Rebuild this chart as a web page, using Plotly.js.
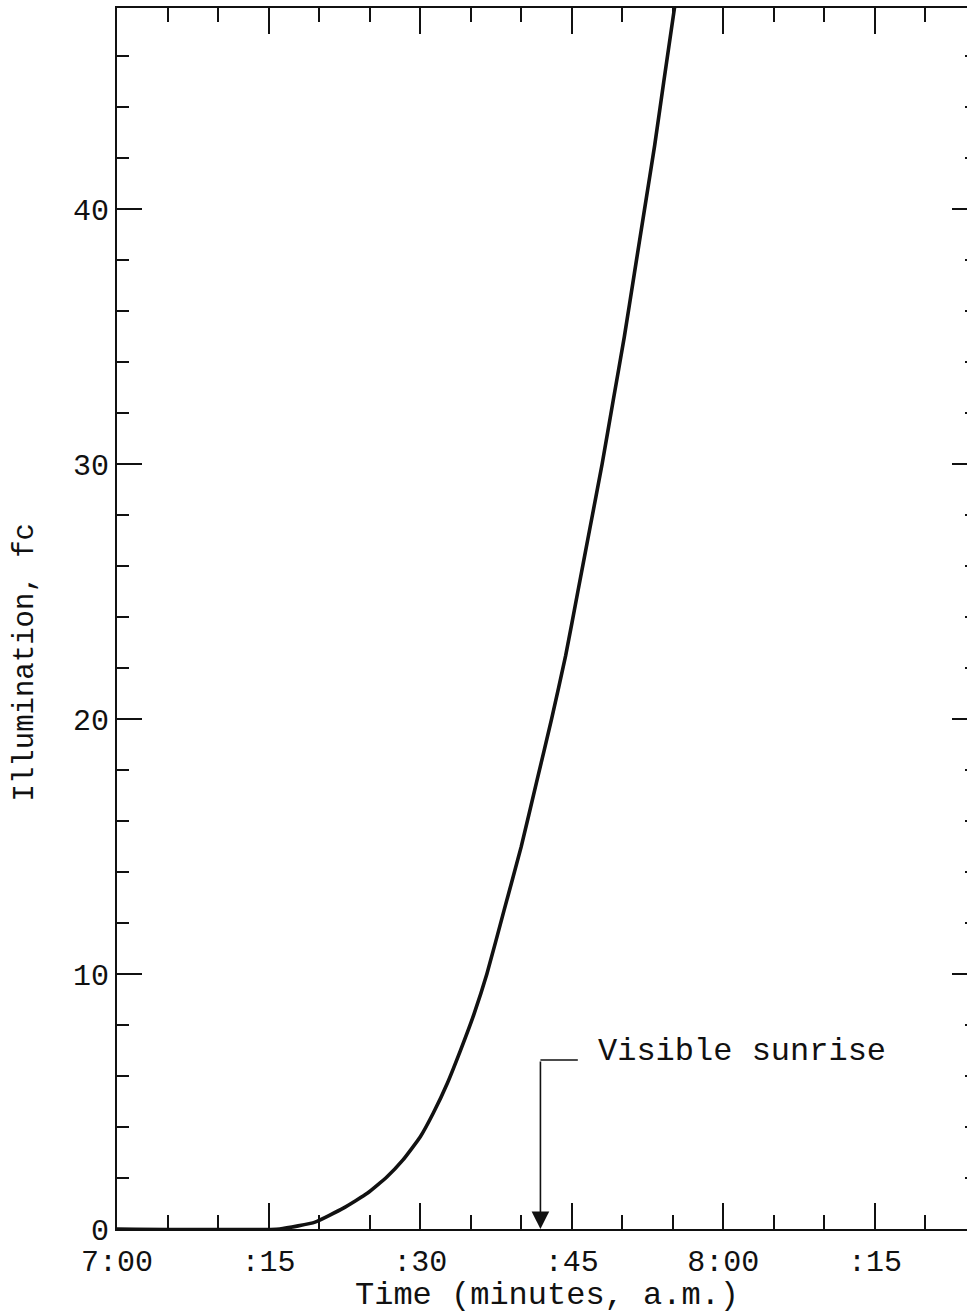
<!DOCTYPE html>
<html>
<head>
<meta charset="utf-8">
<script src="https://cdn.plot.ly/plotly-3.0.1.min.js"></script>
<style>
  html, body { margin: 0; padding: 0; overflow: hidden; background: #fff; }
  #chart { width: 990px; height: 1314px; }
</style>
</head>
<body>
<div id="chart"></div>
<script>
// Minutes after 7:00 a.m.
const minutes = [0, 16.1, 19.6, 22.4, 24.8, 26.7, 28.3, 30.0, 31.3, 32.7, 34.0,
                 35.3, 36.6, 38.3, 40.0, 41.5, 43.0, 44.4, 45.6, 46.8, 48.0,
                 49.1, 50.2, 51.2, 52.2, 53.2, 54.1, 55.2];
// Illumination, foot-candles
const illumination = [0, 0, 0.27, 0.82, 1.41, 2.04, 2.71, 3.61, 4.55, 5.73, 7.02,
                      8.4, 10.0, 12.5, 15.0, 17.5, 20.0, 22.5, 25.0, 27.5, 30.0,
                      32.5, 35.0, 37.5, 40.0, 42.5, 45.0, 48.0];

const xTickMinutes = [0, 15, 30, 45, 60, 75];
const xTickLabels = ['7:00', ':15', ':30', ':45', '8:00', ':15'];
const yTickValues = [0, 10, 20, 30, 40];
const yTickLabels = ['0', '10', '20', '30', '40'];

const sunriseMinute = 41.9;
const sunriseLabelLevel = 6.63;
const sunriseLeaderEnd = 45.6;
const sunriseText = 'Visible sunrise';

const FONT = '"Liberation Mono", "DejaVu Sans Mono", monospace';
const INK = '#111';

const trace = {
  x: minutes,
  y: illumination,
  type: 'scatter',
  mode: 'lines',
  line: { color: INK, width: 3.6, shape: 'spline', smoothing: 0.4 },
  hoverinfo: 'skip',
  showlegend: false
};

const leader = {
  x: [sunriseMinute, sunriseLeaderEnd],
  y: [sunriseLabelLevel, sunriseLabelLevel],
  type: 'scatter',
  mode: 'lines',
  line: { color: INK, width: 1.6 },
  hoverinfo: 'skip',
  showlegend: false
};

const layout = {
  width: 990,
  height: 1314,
  margin: { l: 117, r: 13, t: 8, b: 85 },
  paper_bgcolor: '#fff',
  plot_bgcolor: '#fff',
  font: { family: FONT, color: INK, size: 30 },
  xaxis: {
    range: [0, 85.1],
    tickmode: 'array',
    tickvals: xTickMinutes,
    ticktext: xTickLabels,
    ticks: 'inside',
    ticklen: 26,
    tickwidth: 2,
    tickcolor: INK,
    minor: { tick0: 0, dtick: 5, ticks: 'inside', ticklen: 14, tickwidth: 2, tickcolor: INK, showgrid: false },
    showline: true,
    linewidth: 2,
    linecolor: INK,
    mirror: 'ticks',
    showgrid: false,
    zeroline: false,
    ticklabelstandoff: 4,
    tickfont: { family: FONT, size: 30, color: INK },
    title: { text: 'Time (minutes, a.m.)', font: { family: FONT, size: 32, color: INK }, standoff: 0 },
    automargin: false,
    fixedrange: true
  },
  yaxis: {
    range: [0, 47.9],
    tickmode: 'array',
    tickvals: yTickValues,
    ticktext: yTickLabels,
    ticks: 'inside',
    ticklen: 25,
    tickwidth: 2,
    tickcolor: INK,
    minor: { tick0: 0, dtick: 2, ticks: 'inside', ticklen: 12, tickwidth: 2, tickcolor: INK, showgrid: false },
    showline: true,
    linewidth: 2,
    linecolor: INK,
    mirror: 'ticks',
    showgrid: false,
    zeroline: false,
    ticklabelstandoff: 0,
    tickfont: { family: FONT, size: 30, color: INK },
    automargin: false,
    fixedrange: true
  },
  annotations: [
    {
      text: 'Illumination, fc',
      xref: 'paper', yref: 'paper', x: 0, y: 0.464,
      xshift: -92, xanchor: 'center', yanchor: 'middle',
      textangle: -90, showarrow: false,
      font: { family: FONT, size: 29, color: INK }
    },
    {
      x: sunriseMinute, y: 0, xref: 'x', yref: 'y',
      ax: sunriseMinute, ay: sunriseLabelLevel, axref: 'x', ayref: 'y',
      showarrow: true, arrowhead: 2, arrowsize: 2.2, arrowwidth: 1.6, arrowcolor: INK,
      text: ''
    },
    {
      x: sunriseLeaderEnd + 1.8, y: sunriseLabelLevel + 0.35, xref: 'x', yref: 'y',
      xanchor: 'left', yanchor: 'middle',
      showarrow: false, text: sunriseText,
      font: { family: FONT, size: 32, color: INK }
    }
  ]
};

Plotly.newPlot('chart', [trace, leader], layout, { displayModeBar: false, staticPlot: true });
</script>
</body>
</html>
